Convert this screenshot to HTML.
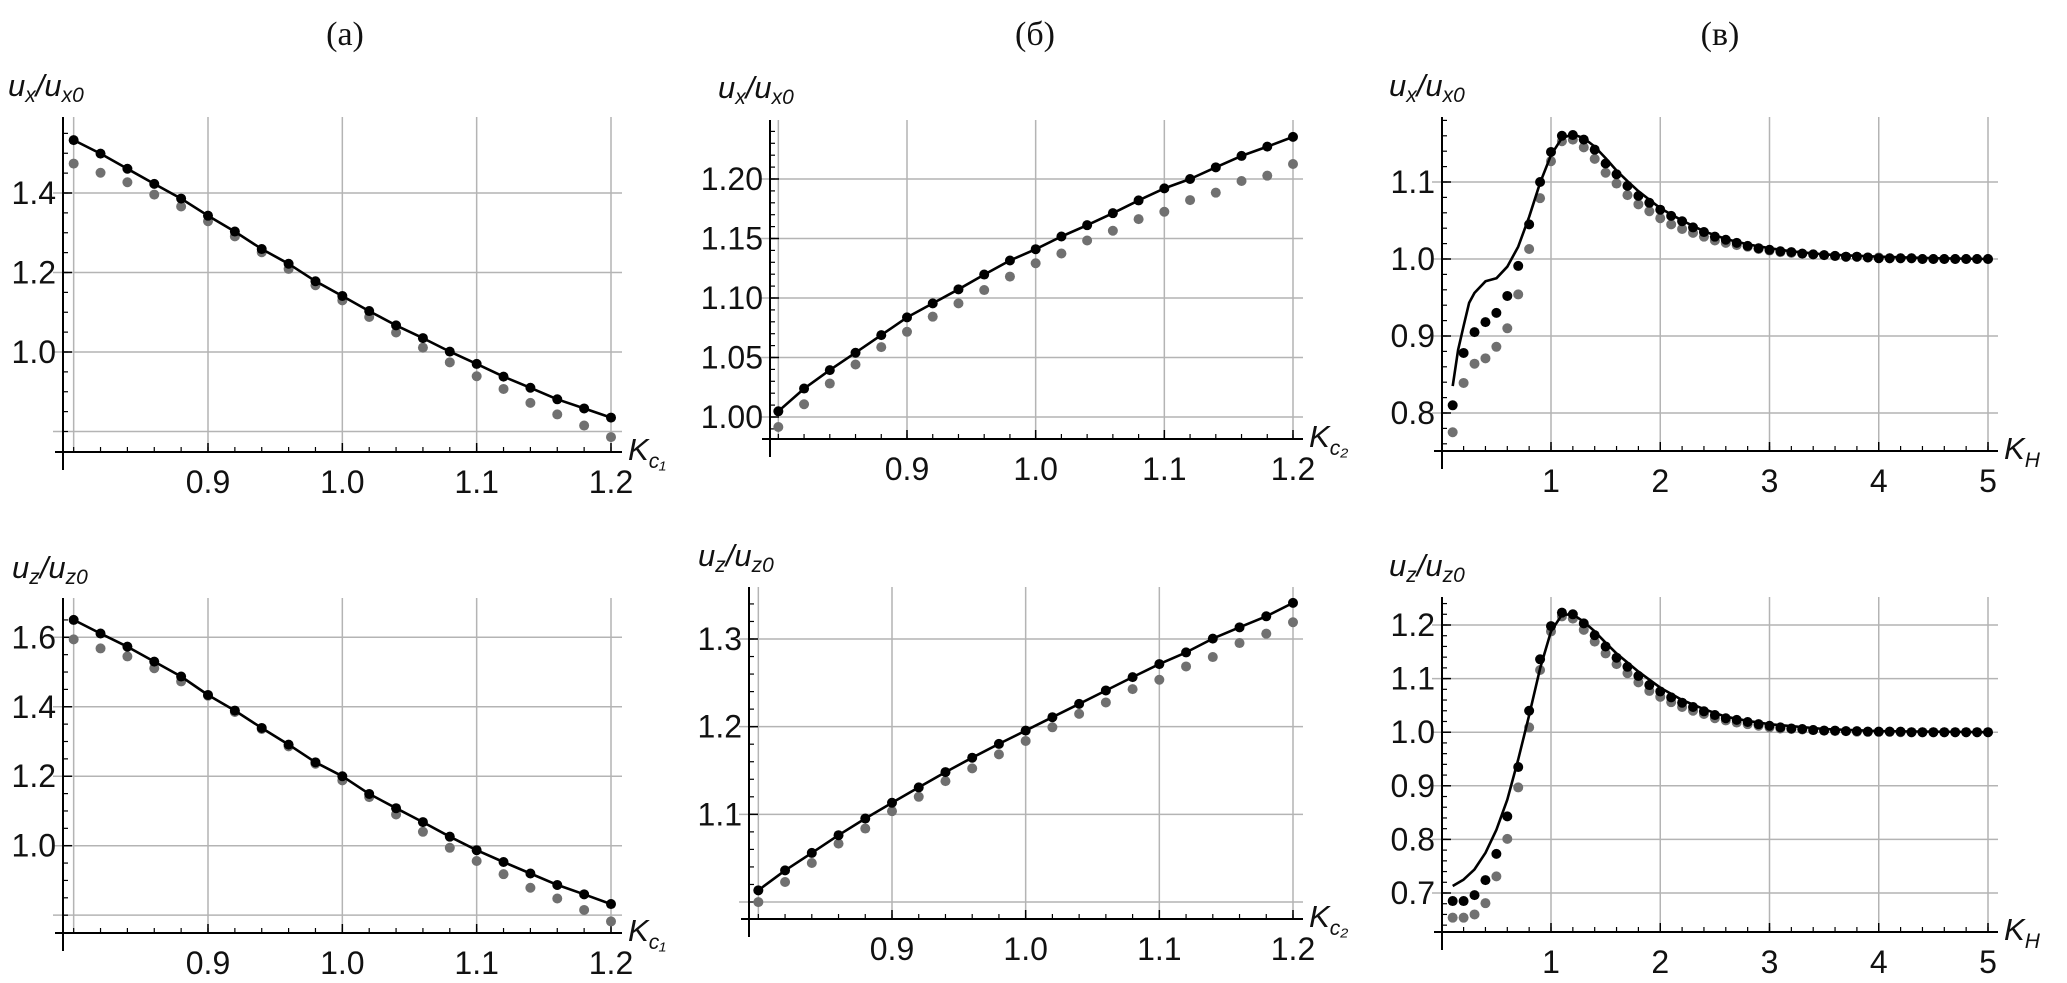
<!DOCTYPE html>
<html><head><meta charset="utf-8"><style>
html,body{margin:0;padding:0;background:#fff;}
svg{display:block;font-family:"Liberation Sans",sans-serif;}
.tl{font-size:32px;fill:#111;}
.ttl{font-family:"Liberation Serif",serif;font-size:34px;fill:#111;}
.al{font-size:31px;font-style:italic;fill:#111;}
</style></head><body>
<svg id="fig" width="2067" height="983" viewBox="0 0 2067 983" xmlns="http://www.w3.org/2000/svg">
<text class="ttl" x="345" y="45" text-anchor="middle">(а)</text>
<text class="ttl" x="1035" y="45" text-anchor="middle">(б)</text>
<text class="ttl" x="1720" y="45" text-anchor="middle">(в)</text>
</svg>
<script>
const kc = [0.80,0.82,0.84,0.86,0.88,0.90,0.92,0.94,0.96,0.98,1.00,1.02,1.04,1.06,1.08,1.10,1.12,1.14,1.16,1.18,1.20];
const a1Black = [1.533,1.499,1.461,1.423,1.386,1.343,1.303,1.259,1.222,1.178,1.141,1.103,1.067,1.035,1.001,0.970,0.938,0.910,0.881,0.858,0.835];
const a1Gray = [1.474,1.451,1.427,1.396,1.366,1.329,1.291,1.251,1.209,1.168,1.130,1.088,1.049,1.011,0.974,0.939,0.907,0.872,0.843,0.815,0.786];
const a2Black = [1.650,1.611,1.573,1.530,1.487,1.434,1.389,1.339,1.291,1.240,1.200,1.149,1.108,1.068,1.026,0.987,0.953,0.920,0.887,0.860,0.832];
const a2Gray = [1.594,1.568,1.545,1.511,1.473,1.432,1.385,1.336,1.286,1.236,1.188,1.140,1.090,1.040,0.994,0.956,0.918,0.879,0.848,0.815,0.782];
const b1Black = [1.0048,1.0239,1.0394,1.0540,1.0688,1.0837,1.0955,1.1073,1.1197,1.1315,1.1410,1.1517,1.1612,1.1713,1.1820,1.1921,1.2000,1.2098,1.2194,1.2272,1.2354];
const b1Gray = [0.9916,1.0107,1.0281,1.0441,1.0587,1.0716,1.0843,1.0955,1.1067,1.1180,1.1292,1.1374,1.1483,1.1565,1.1663,1.1725,1.1823,1.1885,1.1983,1.2028,1.2126];
const b2Black = [1.0133,1.0361,1.0560,1.0762,1.0952,1.1132,1.1307,1.1482,1.1646,1.1803,1.1955,1.2108,1.2260,1.2413,1.2565,1.2714,1.2847,1.3004,1.3133,1.3259,1.3412];
const b2Gray = [0.9999,1.0228,1.0445,1.0666,1.0838,1.1036,1.1200,1.1379,1.1524,1.1684,1.1837,1.1993,1.2146,1.2276,1.2428,1.2535,1.2687,1.2794,1.2954,1.3061,1.3191];
const kh = [0.1,0.2,0.3,0.4,0.5,0.6,0.7,0.8,0.9,1.0,1.1,1.2,1.3,1.4,1.5,1.6,1.7,1.8,1.9,2.0,2.1,2.2,2.3,2.4,2.5,2.6,2.7,2.8,2.9,3.0,3.1,3.2,3.3,3.4,3.5,3.6,3.7,3.8,3.9,4.0,4.1,4.2,4.3,4.4,4.5,4.6,4.7,4.8,4.9,5.0];
const c1Black = [0.810,0.878,0.905,0.918,0.930,0.952,0.991,1.045,1.100,1.139,1.160,1.161,1.155,1.142,1.124,1.110,1.095,1.082,1.073,1.064,1.056,1.049,1.041,1.035,1.029,1.025,1.021,1.017,1.014,1.012,1.010,1.009,1.007,1.006,1.005,1.004,1.003,1.003,1.002,1.001,1.001,1.001,1.001,1.000,1.000,1.000,1.000,1.000,1.000,1.000];
const c1Gray = [0.775,0.839,0.864,0.871,0.886,0.910,0.954,1.013,1.079,1.127,1.153,1.155,1.145,1.130,1.112,1.098,1.083,1.071,1.062,1.053,1.045,1.039,1.034,1.029,1.024,1.021,1.018,1.016,1.013,1.011,1.009,1.008,1.007,1.006,1.005,1.004,1.003,1.003,1.002,1.002,1.001,1.001,1.001,1.000,1.000,1.000,1.000,1.000,1.000,1.000];
const c1LineK = [0.1,0.15,0.2,0.25,0.3,0.4,0.5,0.6,0.7,0.8,0.9,1.0,1.1,1.2,1.3,1.4,1.5,1.6,1.7,1.8,2.0,2.2,2.4,2.6,2.8,3.0,3.2,3.5,4.0,4.5,5.0];
const c1Line = [0.835,0.882,0.913,0.943,0.956,0.971,0.975,0.990,1.016,1.055,1.099,1.135,1.157,1.162,1.157,1.146,1.131,1.115,1.101,1.088,1.066,1.050,1.036,1.026,1.019,1.014,1.010,1.006,1.003,1.001,1.000];
const c2Black = [0.685,0.685,0.696,0.724,0.773,0.843,0.935,1.040,1.136,1.198,1.223,1.220,1.203,1.181,1.160,1.139,1.122,1.105,1.088,1.076,1.065,1.055,1.047,1.039,1.032,1.026,1.023,1.019,1.015,1.012,1.009,1.007,1.006,1.004,1.003,1.003,1.002,1.002,1.001,1.001,1.001,1.001,1.000,1.000,1.000,1.000,1.000,1.000,1.000,1.000];
const c2Gray = [0.654,0.654,0.660,0.681,0.731,0.801,0.897,1.009,1.116,1.188,1.216,1.212,1.191,1.169,1.147,1.127,1.110,1.093,1.077,1.066,1.056,1.047,1.040,1.034,1.026,1.022,1.018,1.015,1.012,1.009,1.007,1.006,1.005,1.004,1.003,1.002,1.002,1.001,1.001,1.001,1.001,1.000,1.000,1.000,1.000,1.000,1.000,1.000,1.000,1.000];
const c2LineK = [0.1,0.2,0.3,0.4,0.5,0.6,0.7,0.8,0.9,1.0,1.1,1.2,1.3,1.4,1.5,1.6,1.8,2.0,2.2,2.4,2.6,2.8,3.0,3.5,4.0,5.0];
const c2Line = [0.713,0.725,0.744,0.775,0.818,0.874,0.949,1.032,1.119,1.188,1.219,1.220,1.206,1.188,1.167,1.147,1.113,1.083,1.060,1.043,1.029,1.021,1.015,1.006,1.002,1.000];
const kcTicks = [0.9,1.0,1.1,1.2];
const kcTickLabels = ["0.9","1.0","1.1","1.2"];
const khTicks = [1,2,3,4,5];
const khTickLabels = ["1","2","3","4","5"];
const a1YTicks = [1.0,1.2,1.4]; const a1YLabels = ["1.0","1.2","1.4"];
const a2YTicks = [1.0,1.2,1.4,1.6]; const a2YLabels = ["1.0","1.2","1.4","1.6"];
const b1YTicks = [1.00,1.05,1.10,1.15,1.20]; const b1YLabels = ["1.00","1.05","1.10","1.15","1.20"];
const b2YTicks = [1.1,1.2,1.3]; const b2YLabels = ["1.1","1.2","1.3"];
const c1YTicks = [0.8,0.9,1.0,1.1]; const c1YLabels = ["0.8","0.9","1.0","1.1"];
const c2YTicks = [0.7,0.8,0.9,1.0,1.1,1.2]; const c2YLabels = ["0.7","0.8","0.9","1.0","1.1","1.2"];

const NS = "http://www.w3.org/2000/svg";
const fig = document.getElementById('fig');
function mk(tag, attrs, parent){const e=document.createElementNS(NS,tag);for(const k in attrs)e.setAttribute(k,attrs[k]);(parent||fig).appendChild(e);return e;}
function lin(d0,p0,d1,p1){return v=>p0+(v-d0)*(p1-p0)/(d1-d0);}

function panel(c){
  const g = mk('g',{});
  
  
  const X = lin(c.xd[0],c.xp[0],c.xd[1],c.xp[1]);
  const Y = lin(c.yd[0],c.yp[0],c.yd[1],c.yp[1]);
  // grid
  const vgrid = c.xTicks.concat([c.xMin]);
  vgrid.forEach(v=>{const l=mk('line',{x1:X(v),x2:X(v),y1:c.top,y2:c.axisY,stroke:'#b4b4b4','stroke-width':1.5},g);
    });
  c.yGrid.forEach(v=>{const l=mk('line',{x1:c.axisX-10,x2:c.right,y1:Y(v),y2:Y(v),stroke:'#b4b4b4','stroke-width':1.5},g);
    });
  // axes
  const xa = mk('line',{x1:c.axisX-8,x2:c.right,y1:c.axisY,y2:c.axisY,stroke:'#000','stroke-width':2},g);
  
  const ya = mk('line',{x1:c.axisX,x2:c.axisX,y1:c.top,y2:c.axisY+18,stroke:'#000','stroke-width':2},g);
  
  // minor ticks
  for(let v=c.xMin; v<=c.xd[1]+1e-9; v+=c.xMinor){const x=X(v);mk('line',{x1:x,x2:x,y1:c.axisY,y2:c.axisY-5,stroke:'#000','stroke-width':1.2},g);}
  for(let v=c.yMinStart; v<=c.yMaxTick+1e-9; v+=c.yMinor){const y=Y(v);if(y<c.top||y>c.axisY)continue;mk('line',{x1:c.axisX,x2:c.axisX+5,y1:y,y2:y,stroke:'#000','stroke-width':1.2},g);}
  c.xTicks.forEach((v,i)=>{const x=X(v);mk('line',{x1:x,x2:x,y1:c.axisY,y2:c.axisY-9,stroke:'#000','stroke-width':1.5},g);
    const t=mk('text',{x:x,y:c.axisY+41,'text-anchor':'middle',class:'tl'},g);t.textContent=c.xLabels[i];
    });
  c.yTicks.forEach((v,i)=>{const y=Y(v);mk('line',{x1:c.axisX,x2:c.axisX+9,y1:y,y2:y,stroke:'#000','stroke-width':1.5},g);
    const t=mk('text',{x:c.axisX-7,y:y+11,'text-anchor':'end',class:'tl'},g);t.textContent=c.yLabels[i];
    });
  // axis labels
  const yl = mk('text',{x:c.ylx,y:c.yly,class:'al'},g);
  yl.innerHTML = '<tspan>u</tspan><tspan font-size="21" dy="6">'+c.comp+'</tspan><tspan dy="-6">/u</tspan><tspan font-size="21" dy="6">'+c.comp+'0</tspan>';
  
  const xl = mk('text',{x:c.right+6,y:c.axisY+8,class:'al'},g);
  xl.innerHTML = '<tspan>K</tspan><tspan font-size="21" dy="8">'+c.xsub+'</tspan>';
  
  // series
  c.gray.forEach((v,i)=>{const d=mk('circle',{cx:X(c.xs[i]),cy:Y(v),r:5,fill:'#707070'},g);
    });
  const pts = c.lineX.map((k,i)=>X(k).toFixed(1)+','+Y(c.lineY[i]).toFixed(1)).join(' ');
  const pl = mk('polyline',{points:pts,fill:'none',stroke:'#000','stroke-width':2.6,'stroke-linejoin':'round'},g);
  
  c.black.forEach((v,i)=>{const d=mk('circle',{cx:X(c.xs[i]),cy:Y(v),r:5,fill:'#000'},g);
    });
}

const kcBase = {xd:[0.9,1.2],xMin:0.8,xMinor:0.02,xTicks:kcTicks,xLabels:kcTickLabels,xs:kc,lineX:kc};
panel(Object.assign({},kcBase,{name:'panel-a-ux',xp:[208,611],yd:[1.4,1.0],yp:[193,352],axisX:63,axisY:452,top:117,right:622,
  yTicks:a1YTicks,yLabels:a1YLabels,yGrid:[0.8,1.0,1.2,1.4],yMinStart:0.8,yMaxTick:1.55,yMinor:0.05,
  black:a1Black,gray:a1Gray,lineY:a1Black,comp:'x',xsub:'c₁',ylx:8,yly:96}));
panel(Object.assign({},kcBase,{name:'panel-a-uz',xp:[208,611],yd:[1.6,1.0],yp:[637.3,845.7],axisX:63,axisY:933,top:598,right:622,
  yTicks:a2YTicks,yLabels:a2YLabels,yGrid:[0.8,1.0,1.2,1.4,1.6],yMinStart:0.8,yMaxTick:1.65,yMinor:0.05,
  black:a2Black,gray:a2Gray,lineY:a2Black,comp:'z',xsub:'c₁',ylx:12,yly:578}));
panel(Object.assign({},kcBase,{name:'panel-b-ux',xp:[907,1293],yd:[1.2,1.0],yp:[179,417],axisX:770,axisY:439,top:120,right:1303,
  yTicks:b1YTicks,yLabels:b1YLabels,yGrid:b1YTicks,yMinStart:0.99,yMaxTick:1.24,yMinor:0.01,
  black:b1Black,gray:b1Gray,lineY:b1Black,comp:'x',xsub:'c₂',ylx:718,yly:98}));
panel(Object.assign({},kcBase,{name:'panel-b-uz',xp:[892,1293],yd:[1.3,1.0],yp:[639,902],axisX:749,axisY:919,top:587,right:1303,
  yTicks:b2YTicks,yLabels:b2YLabels,yGrid:[1.0,1.1,1.2,1.3],yMinStart:1.0,yMaxTick:1.36,yMinor:0.02,
  black:b2Black,gray:b2Gray,lineY:b2Black,comp:'z',xsub:'c₂',ylx:698,yly:566}));
const khBase = {xd:[1,5],xp:[1551,1988],xMin:0,xMinor:0.2,xTicks:khTicks,xLabels:khTickLabels,xs:kh,axisX:1442,right:1998,xsub:'H'};
panel(Object.assign({},khBase,{name:'panel-v-ux',yd:[1.1,0.8],yp:[182,413],axisY:451,top:117,
  yTicks:c1YTicks,yLabels:c1YLabels,yGrid:c1YTicks,yMinStart:0.76,yMaxTick:1.18,yMinor:0.02,
  black:c1Black,gray:c1Gray,lineX:c1LineK,lineY:c1Line,comp:'x',ylx:1389,yly:96}));
panel(Object.assign({},khBase,{name:'panel-v-uz',yd:[1.2,0.7],yp:[625,893],axisY:932,top:597,
  yTicks:c2YTicks,yLabels:c2YLabels,yGrid:c2YTicks,yMinStart:0.64,yMaxTick:1.26,yMinor:0.02,
  black:c2Black,gray:c2Gray,lineX:c2LineK,lineY:c2Line,comp:'z',ylx:1389,yly:576}));
</script>
</body></html>
